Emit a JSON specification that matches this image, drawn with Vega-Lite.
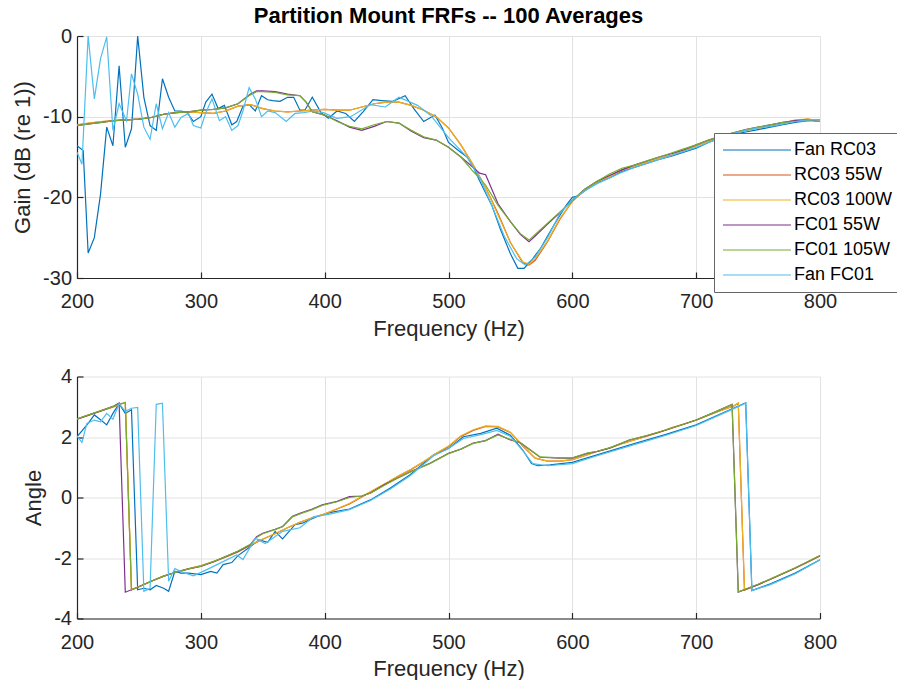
{
  "$schema": "https://vega.github.io/schema/vega-lite/v6.json",
  "background": "white",
  "padding": {"left": 11, "top": 5, "right": 0, "bottom": 0},
  "spacing": 27.5,
  "config": {
    "font": "Liberation Sans",
    "view": {"stroke": null},
    "axis": {
      "labelFont": "Liberation Sans", "labelFontSize": 20, "labelColor": "#262626", "labelFlush": false,
      "titleFont": "Liberation Sans", "titleFontSize": 22, "titleFontWeight": "normal", "titleColor": "#262626",
      "domainColor": "#262626", "domainWidth": 1.2, "tickColor": "#262626", "tickSize": -6, "tickWidth": 1.2,
      "gridColor": "#e2e2e2", "gridWidth": 1
    },
    "axisX": {"labelPadding": 19.5, "titlePadding": 6.5},
    "axisY": {"labelPadding": 11.5, "titlePadding": 8}
  },
  "datasets": {
    "gain": [
      {"f":200,"s":"Fan RC03","v":-13.6},{"f":205,"s":"Fan RC03","v":-14.2},{"f":209,"s":"Fan RC03","v":-26.9},{"f":214,"s":"Fan RC03","v":-25.0},{"f":219,"s":"Fan RC03","v":-19.6},{"f":224,"s":"Fan RC03","v":-11.3},{"f":229,"s":"Fan RC03","v":-13.6},{"f":234,"s":"Fan RC03","v":-3.7},{"f":239,"s":"Fan RC03","v":-13.8},{"f":244,"s":"Fan RC03","v":-11.5},{"f":249,"s":"Fan RC03","v":0.0},{"f":254,"s":"Fan RC03","v":-7.6},{"f":259,"s":"Fan RC03","v":-11.1},{"f":264,"s":"Fan RC03","v":-11.7},{"f":269,"s":"Fan RC03","v":-5.3},{"f":274,"s":"Fan RC03","v":-7.6},{"f":279,"s":"Fan RC03","v":-9.3},{"f":284,"s":"Fan RC03","v":-9.3},{"f":289,"s":"Fan RC03","v":-9.5},{"f":294,"s":"Fan RC03","v":-10.6},{"f":300,"s":"Fan RC03","v":-10.0},{"f":304,"s":"Fan RC03","v":-8.2},{"f":309,"s":"Fan RC03","v":-7.2},{"f":314,"s":"Fan RC03","v":-9.0},{"f":319,"s":"Fan RC03","v":-8.6},{"f":325,"s":"Fan RC03","v":-11.0},{"f":329,"s":"Fan RC03","v":-10.6},{"f":334,"s":"Fan RC03","v":-8.7},{"f":339,"s":"Fan RC03","v":-8.5},{"f":344,"s":"Fan RC03","v":-9.3},{"f":349,"s":"Fan RC03","v":-7.4},{"f":354,"s":"Fan RC03","v":-7.9},{"f":358,"s":"Fan RC03","v":-8.0},{"f":364,"s":"Fan RC03","v":-8.1},{"f":370,"s":"Fan RC03","v":-7.6},{"f":375,"s":"Fan RC03","v":-7.6},{"f":380,"s":"Fan RC03","v":-9.2},{"f":384,"s":"Fan RC03","v":-9.2},{"f":390,"s":"Fan RC03","v":-7.6},{"f":397,"s":"Fan RC03","v":-9.5},{"f":403,"s":"Fan RC03","v":-10.2},{"f":410,"s":"Fan RC03","v":-9.3},{"f":417,"s":"Fan RC03","v":-9.6},{"f":424,"s":"Fan RC03","v":-10.6},{"f":431,"s":"Fan RC03","v":-9.4},{"f":439,"s":"Fan RC03","v":-7.9},{"f":446,"s":"Fan RC03","v":-8.0},{"f":455,"s":"Fan RC03","v":-8.1},{"f":465,"s":"Fan RC03","v":-7.4},{"f":472,"s":"Fan RC03","v":-9.0},{"f":480,"s":"Fan RC03","v":-10.6},{"f":489,"s":"Fan RC03","v":-9.8},{"f":495,"s":"Fan RC03","v":-11.4},{"f":500,"s":"Fan RC03","v":-13.2},{"f":508,"s":"Fan RC03","v":-14.2},{"f":515,"s":"Fan RC03","v":-15.0},{"f":520,"s":"Fan RC03","v":-16.2},{"f":525,"s":"Fan RC03","v":-17.9},{"f":535,"s":"Fan RC03","v":-21.0},{"f":542,"s":"Fan RC03","v":-24.0},{"f":550,"s":"Fan RC03","v":-27.0},{"f":556,"s":"Fan RC03","v":-28.8},{"f":561,"s":"Fan RC03","v":-28.8},{"f":567,"s":"Fan RC03","v":-27.8},{"f":574,"s":"Fan RC03","v":-26.4},{"f":580,"s":"Fan RC03","v":-24.8},{"f":588,"s":"Fan RC03","v":-22.7},{"f":595,"s":"Fan RC03","v":-21.0},{"f":600,"s":"Fan RC03","v":-20.0},{"f":605,"s":"Fan RC03","v":-19.8},{"f":614,"s":"Fan RC03","v":-18.7},{"f":620,"s":"Fan RC03","v":-18.2},{"f":630,"s":"Fan RC03","v":-17.6},{"f":640,"s":"Fan RC03","v":-16.8},{"f":650,"s":"Fan RC03","v":-16.3},{"f":660,"s":"Fan RC03","v":-15.8},{"f":670,"s":"Fan RC03","v":-15.3},{"f":680,"s":"Fan RC03","v":-14.9},{"f":690,"s":"Fan RC03","v":-14.4},{"f":700,"s":"Fan RC03","v":-13.9},{"f":710,"s":"Fan RC03","v":-13.2},{"f":720,"s":"Fan RC03","v":-12.6},{"f":730,"s":"Fan RC03","v":-12.2},{"f":740,"s":"Fan RC03","v":-11.9},{"f":750,"s":"Fan RC03","v":-11.6},{"f":760,"s":"Fan RC03","v":-11.3},{"f":770,"s":"Fan RC03","v":-11.0},{"f":780,"s":"Fan RC03","v":-10.7},{"f":790,"s":"Fan RC03","v":-10.5},{"f":800,"s":"Fan RC03","v":-10.4},

      {"f":200,"s":"RC03 55W","v":-11.0},{"f":210,"s":"RC03 55W","v":-10.8},{"f":220,"s":"RC03 55W","v":-10.6},{"f":230,"s":"RC03 55W","v":-10.5},{"f":240,"s":"RC03 55W","v":-10.4},{"f":250,"s":"RC03 55W","v":-10.3},{"f":260,"s":"RC03 55W","v":-10.1},{"f":270,"s":"RC03 55W","v":-9.7},{"f":280,"s":"RC03 55W","v":-9.5},{"f":290,"s":"RC03 55W","v":-9.4},{"f":300,"s":"RC03 55W","v":-9.5},{"f":310,"s":"RC03 55W","v":-9.6},{"f":320,"s":"RC03 55W","v":-9.3},{"f":330,"s":"RC03 55W","v":-8.7},{"f":340,"s":"RC03 55W","v":-8.5},{"f":350,"s":"RC03 55W","v":-9.0},{"f":360,"s":"RC03 55W","v":-9.3},{"f":370,"s":"RC03 55W","v":-9.4},{"f":380,"s":"RC03 55W","v":-9.3},{"f":390,"s":"RC03 55W","v":-9.2},{"f":400,"s":"RC03 55W","v":-9.1},{"f":410,"s":"RC03 55W","v":-9.2},{"f":420,"s":"RC03 55W","v":-9.2},{"f":430,"s":"RC03 55W","v":-8.8},{"f":440,"s":"RC03 55W","v":-8.4},{"f":450,"s":"RC03 55W","v":-8.2},{"f":460,"s":"RC03 55W","v":-8.2},{"f":470,"s":"RC03 55W","v":-8.6},{"f":480,"s":"RC03 55W","v":-9.2},{"f":490,"s":"RC03 55W","v":-10.0},{"f":500,"s":"RC03 55W","v":-11.4},{"f":510,"s":"RC03 55W","v":-13.5},{"f":520,"s":"RC03 55W","v":-16.0},{"f":530,"s":"RC03 55W","v":-18.8},{"f":540,"s":"RC03 55W","v":-22.0},{"f":550,"s":"RC03 55W","v":-25.6},{"f":560,"s":"RC03 55W","v":-28.1},{"f":565,"s":"RC03 55W","v":-28.4},{"f":570,"s":"RC03 55W","v":-27.8},{"f":580,"s":"RC03 55W","v":-25.5},{"f":590,"s":"RC03 55W","v":-22.7},{"f":600,"s":"RC03 55W","v":-20.5},{"f":610,"s":"RC03 55W","v":-19.1},{"f":620,"s":"RC03 55W","v":-18.1},{"f":630,"s":"RC03 55W","v":-17.4},{"f":640,"s":"RC03 55W","v":-16.6},{"f":650,"s":"RC03 55W","v":-16.1},{"f":660,"s":"RC03 55W","v":-15.6},{"f":670,"s":"RC03 55W","v":-15.2},{"f":680,"s":"RC03 55W","v":-14.8},{"f":690,"s":"RC03 55W","v":-14.2},{"f":700,"s":"RC03 55W","v":-13.6},{"f":710,"s":"RC03 55W","v":-13.0},{"f":720,"s":"RC03 55W","v":-12.5},{"f":730,"s":"RC03 55W","v":-12.1},{"f":740,"s":"RC03 55W","v":-11.7},{"f":750,"s":"RC03 55W","v":-11.4},{"f":760,"s":"RC03 55W","v":-11.1},{"f":770,"s":"RC03 55W","v":-10.8},{"f":780,"s":"RC03 55W","v":-10.5},{"f":790,"s":"RC03 55W","v":-10.3},{"f":800,"s":"RC03 55W","v":-10.5},

      {"f":200,"s":"RC03 100W","v":-11.0},{"f":210,"s":"RC03 100W","v":-10.8},{"f":220,"s":"RC03 100W","v":-10.6},{"f":230,"s":"RC03 100W","v":-10.5},{"f":240,"s":"RC03 100W","v":-10.4},{"f":250,"s":"RC03 100W","v":-10.3},{"f":260,"s":"RC03 100W","v":-10.1},{"f":270,"s":"RC03 100W","v":-9.7},{"f":280,"s":"RC03 100W","v":-9.5},{"f":290,"s":"RC03 100W","v":-9.4},{"f":300,"s":"RC03 100W","v":-9.5},{"f":310,"s":"RC03 100W","v":-9.6},{"f":320,"s":"RC03 100W","v":-9.3},{"f":330,"s":"RC03 100W","v":-8.7},{"f":340,"s":"RC03 100W","v":-8.5},{"f":350,"s":"RC03 100W","v":-9.0},{"f":360,"s":"RC03 100W","v":-9.3},{"f":370,"s":"RC03 100W","v":-9.4},{"f":380,"s":"RC03 100W","v":-9.3},{"f":390,"s":"RC03 100W","v":-9.2},{"f":400,"s":"RC03 100W","v":-9.1},{"f":410,"s":"RC03 100W","v":-9.2},{"f":420,"s":"RC03 100W","v":-9.2},{"f":430,"s":"RC03 100W","v":-8.8},{"f":440,"s":"RC03 100W","v":-8.4},{"f":450,"s":"RC03 100W","v":-8.2},{"f":460,"s":"RC03 100W","v":-8.2},{"f":470,"s":"RC03 100W","v":-8.6},{"f":480,"s":"RC03 100W","v":-9.2},{"f":490,"s":"RC03 100W","v":-10.0},{"f":500,"s":"RC03 100W","v":-11.4},{"f":510,"s":"RC03 100W","v":-13.5},{"f":520,"s":"RC03 100W","v":-16.0},{"f":530,"s":"RC03 100W","v":-18.8},{"f":540,"s":"RC03 100W","v":-22.2},{"f":550,"s":"RC03 100W","v":-25.6},{"f":560,"s":"RC03 100W","v":-28.0},{"f":565,"s":"RC03 100W","v":-28.3},{"f":570,"s":"RC03 100W","v":-27.6},{"f":580,"s":"RC03 100W","v":-25.4},{"f":590,"s":"RC03 100W","v":-22.6},{"f":600,"s":"RC03 100W","v":-20.5},{"f":610,"s":"RC03 100W","v":-19.1},{"f":620,"s":"RC03 100W","v":-18.1},{"f":630,"s":"RC03 100W","v":-17.4},{"f":640,"s":"RC03 100W","v":-16.6},{"f":650,"s":"RC03 100W","v":-16.1},{"f":660,"s":"RC03 100W","v":-15.6},{"f":670,"s":"RC03 100W","v":-15.2},{"f":680,"s":"RC03 100W","v":-14.8},{"f":690,"s":"RC03 100W","v":-14.2},{"f":700,"s":"RC03 100W","v":-13.6},{"f":710,"s":"RC03 100W","v":-13.0},{"f":720,"s":"RC03 100W","v":-12.5},{"f":730,"s":"RC03 100W","v":-12.1},{"f":740,"s":"RC03 100W","v":-11.7},{"f":750,"s":"RC03 100W","v":-11.4},{"f":760,"s":"RC03 100W","v":-11.1},{"f":770,"s":"RC03 100W","v":-10.8},{"f":780,"s":"RC03 100W","v":-10.4},{"f":790,"s":"RC03 100W","v":-10.3},{"f":800,"s":"RC03 100W","v":-10.5},

      {"f":200,"s":"FC01 55W","v":-11.1},{"f":210,"s":"FC01 55W","v":-10.9},{"f":220,"s":"FC01 55W","v":-10.7},{"f":230,"s":"FC01 55W","v":-10.5},{"f":240,"s":"FC01 55W","v":-10.4},{"f":250,"s":"FC01 55W","v":-10.3},{"f":260,"s":"FC01 55W","v":-10.1},{"f":270,"s":"FC01 55W","v":-9.7},{"f":280,"s":"FC01 55W","v":-9.5},{"f":290,"s":"FC01 55W","v":-9.4},{"f":300,"s":"FC01 55W","v":-9.2},{"f":310,"s":"FC01 55W","v":-9.1},{"f":320,"s":"FC01 55W","v":-8.9},{"f":330,"s":"FC01 55W","v":-8.4},{"f":340,"s":"FC01 55W","v":-7.2},{"f":345,"s":"FC01 55W","v":-6.8},{"f":350,"s":"FC01 55W","v":-6.8},{"f":360,"s":"FC01 55W","v":-6.9},{"f":370,"s":"FC01 55W","v":-7.2},{"f":380,"s":"FC01 55W","v":-7.4},{"f":385,"s":"FC01 55W","v":-8.2},{"f":390,"s":"FC01 55W","v":-9.4},{"f":400,"s":"FC01 55W","v":-9.8},{"f":410,"s":"FC01 55W","v":-10.5},{"f":420,"s":"FC01 55W","v":-11.3},{"f":430,"s":"FC01 55W","v":-11.7},{"f":440,"s":"FC01 55W","v":-11.2},{"f":450,"s":"FC01 55W","v":-10.6},{"f":460,"s":"FC01 55W","v":-10.8},{"f":470,"s":"FC01 55W","v":-11.8},{"f":480,"s":"FC01 55W","v":-12.6},{"f":490,"s":"FC01 55W","v":-12.9},{"f":500,"s":"FC01 55W","v":-13.8},{"f":510,"s":"FC01 55W","v":-15.0},{"f":520,"s":"FC01 55W","v":-16.3},{"f":525,"s":"FC01 55W","v":-17.0},{"f":530,"s":"FC01 55W","v":-17.2},{"f":540,"s":"FC01 55W","v":-20.8},{"f":550,"s":"FC01 55W","v":-23.0},{"f":558,"s":"FC01 55W","v":-24.6},{"f":565,"s":"FC01 55W","v":-25.5},{"f":570,"s":"FC01 55W","v":-24.8},{"f":580,"s":"FC01 55W","v":-23.3},{"f":590,"s":"FC01 55W","v":-21.9},{"f":600,"s":"FC01 55W","v":-20.4},{"f":610,"s":"FC01 55W","v":-19.0},{"f":620,"s":"FC01 55W","v":-18.0},{"f":630,"s":"FC01 55W","v":-17.3},{"f":640,"s":"FC01 55W","v":-16.6},{"f":650,"s":"FC01 55W","v":-16.0},{"f":660,"s":"FC01 55W","v":-15.5},{"f":670,"s":"FC01 55W","v":-15.0},{"f":680,"s":"FC01 55W","v":-14.6},{"f":690,"s":"FC01 55W","v":-14.1},{"f":700,"s":"FC01 55W","v":-13.5},{"f":710,"s":"FC01 55W","v":-12.9},{"f":720,"s":"FC01 55W","v":-12.4},{"f":730,"s":"FC01 55W","v":-12.0},{"f":740,"s":"FC01 55W","v":-11.6},{"f":750,"s":"FC01 55W","v":-11.3},{"f":760,"s":"FC01 55W","v":-11.0},{"f":770,"s":"FC01 55W","v":-10.7},{"f":780,"s":"FC01 55W","v":-10.5},{"f":790,"s":"FC01 55W","v":-10.4},{"f":800,"s":"FC01 55W","v":-10.6},

      {"f":200,"s":"FC01 105W","v":-11.1},{"f":210,"s":"FC01 105W","v":-10.9},{"f":220,"s":"FC01 105W","v":-10.7},{"f":230,"s":"FC01 105W","v":-10.5},{"f":240,"s":"FC01 105W","v":-10.4},{"f":250,"s":"FC01 105W","v":-10.3},{"f":260,"s":"FC01 105W","v":-10.1},{"f":270,"s":"FC01 105W","v":-9.7},{"f":280,"s":"FC01 105W","v":-9.5},{"f":290,"s":"FC01 105W","v":-9.4},{"f":300,"s":"FC01 105W","v":-9.2},{"f":310,"s":"FC01 105W","v":-9.1},{"f":320,"s":"FC01 105W","v":-8.9},{"f":330,"s":"FC01 105W","v":-8.4},{"f":340,"s":"FC01 105W","v":-7.3},{"f":345,"s":"FC01 105W","v":-6.9},{"f":350,"s":"FC01 105W","v":-6.9},{"f":360,"s":"FC01 105W","v":-7.0},{"f":370,"s":"FC01 105W","v":-7.3},{"f":380,"s":"FC01 105W","v":-7.4},{"f":385,"s":"FC01 105W","v":-8.2},{"f":390,"s":"FC01 105W","v":-9.4},{"f":400,"s":"FC01 105W","v":-9.8},{"f":410,"s":"FC01 105W","v":-10.6},{"f":420,"s":"FC01 105W","v":-11.2},{"f":430,"s":"FC01 105W","v":-11.5},{"f":440,"s":"FC01 105W","v":-11.0},{"f":450,"s":"FC01 105W","v":-10.6},{"f":460,"s":"FC01 105W","v":-10.8},{"f":470,"s":"FC01 105W","v":-11.7},{"f":480,"s":"FC01 105W","v":-12.5},{"f":490,"s":"FC01 105W","v":-12.9},{"f":500,"s":"FC01 105W","v":-13.8},{"f":510,"s":"FC01 105W","v":-15.0},{"f":520,"s":"FC01 105W","v":-16.8},{"f":525,"s":"FC01 105W","v":-17.6},{"f":530,"s":"FC01 105W","v":-18.5},{"f":540,"s":"FC01 105W","v":-21.0},{"f":550,"s":"FC01 105W","v":-23.0},{"f":558,"s":"FC01 105W","v":-24.5},{"f":565,"s":"FC01 105W","v":-25.3},{"f":570,"s":"FC01 105W","v":-24.6},{"f":580,"s":"FC01 105W","v":-23.2},{"f":590,"s":"FC01 105W","v":-21.8},{"f":600,"s":"FC01 105W","v":-20.4},{"f":610,"s":"FC01 105W","v":-19.0},{"f":620,"s":"FC01 105W","v":-18.0},{"f":630,"s":"FC01 105W","v":-17.1},{"f":640,"s":"FC01 105W","v":-16.4},{"f":650,"s":"FC01 105W","v":-16.0},{"f":660,"s":"FC01 105W","v":-15.5},{"f":670,"s":"FC01 105W","v":-15.0},{"f":680,"s":"FC01 105W","v":-14.5},{"f":690,"s":"FC01 105W","v":-14.0},{"f":700,"s":"FC01 105W","v":-13.5},{"f":710,"s":"FC01 105W","v":-12.9},{"f":720,"s":"FC01 105W","v":-12.4},{"f":730,"s":"FC01 105W","v":-12.0},{"f":740,"s":"FC01 105W","v":-11.6},{"f":750,"s":"FC01 105W","v":-11.3},{"f":760,"s":"FC01 105W","v":-11.0},{"f":770,"s":"FC01 105W","v":-10.7},{"f":780,"s":"FC01 105W","v":-10.6},{"f":790,"s":"FC01 105W","v":-10.5},{"f":800,"s":"FC01 105W","v":-10.6},

      {"f":200,"s":"Fan FC01","v":-14.4},{"f":204,"s":"Fan FC01","v":-15.9},{"f":209,"s":"Fan FC01","v":0.0},{"f":214,"s":"Fan FC01","v":-7.8},{"f":219,"s":"Fan FC01","v":-2.8},{"f":224,"s":"Fan FC01","v":-0.1},{"f":229,"s":"Fan FC01","v":-11.7},{"f":234,"s":"Fan FC01","v":-8.4},{"f":240,"s":"Fan FC01","v":-10.5},{"f":244,"s":"Fan FC01","v":-4.7},{"f":249,"s":"Fan FC01","v":-7.2},{"f":254,"s":"Fan FC01","v":-11.3},{"f":259,"s":"Fan FC01","v":-12.8},{"f":264,"s":"Fan FC01","v":-8.4},{"f":269,"s":"Fan FC01","v":-11.5},{"f":274,"s":"Fan FC01","v":-9.5},{"f":279,"s":"Fan FC01","v":-11.3},{"f":284,"s":"Fan FC01","v":-10.1},{"f":290,"s":"Fan FC01","v":-9.6},{"f":294,"s":"Fan FC01","v":-11.1},{"f":300,"s":"Fan FC01","v":-11.4},{"f":304,"s":"Fan FC01","v":-9.5},{"f":309,"s":"Fan FC01","v":-7.8},{"f":315,"s":"Fan FC01","v":-10.5},{"f":320,"s":"Fan FC01","v":-10.0},{"f":325,"s":"Fan FC01","v":-11.7},{"f":330,"s":"Fan FC01","v":-11.1},{"f":334,"s":"Fan FC01","v":-9.3},{"f":339,"s":"Fan FC01","v":-6.4},{"f":344,"s":"Fan FC01","v":-7.8},{"f":349,"s":"Fan FC01","v":-10.0},{"f":354,"s":"Fan FC01","v":-9.3},{"f":360,"s":"Fan FC01","v":-9.5},{"f":369,"s":"Fan FC01","v":-10.6},{"f":376,"s":"Fan FC01","v":-9.6},{"f":383,"s":"Fan FC01","v":-9.5},{"f":391,"s":"Fan FC01","v":-9.3},{"f":399,"s":"Fan FC01","v":-9.5},{"f":405,"s":"Fan FC01","v":-9.9},{"f":410,"s":"Fan FC01","v":-10.2},{"f":421,"s":"Fan FC01","v":-10.0},{"f":437,"s":"Fan FC01","v":-8.5},{"f":449,"s":"Fan FC01","v":-8.8},{"f":460,"s":"Fan FC01","v":-7.6},{"f":475,"s":"Fan FC01","v":-8.6},{"f":486,"s":"Fan FC01","v":-9.9},{"f":500,"s":"Fan FC01","v":-12.6},{"f":515,"s":"Fan FC01","v":-15.0},{"f":525,"s":"Fan FC01","v":-17.5},{"f":535,"s":"Fan FC01","v":-21.0},{"f":545,"s":"Fan FC01","v":-24.8},{"f":555,"s":"Fan FC01","v":-27.6},{"f":562,"s":"Fan FC01","v":-28.4},{"f":570,"s":"Fan FC01","v":-27.4},{"f":580,"s":"Fan FC01","v":-25.0},{"f":590,"s":"Fan FC01","v":-22.0},{"f":600,"s":"Fan FC01","v":-20.3},{"f":610,"s":"Fan FC01","v":-19.2},{"f":620,"s":"Fan FC01","v":-18.3},{"f":630,"s":"Fan FC01","v":-17.6},{"f":640,"s":"Fan FC01","v":-16.9},{"f":650,"s":"Fan FC01","v":-16.3},{"f":660,"s":"Fan FC01","v":-15.8},{"f":670,"s":"Fan FC01","v":-15.3},{"f":680,"s":"Fan FC01","v":-14.8},{"f":690,"s":"Fan FC01","v":-14.3},{"f":700,"s":"Fan FC01","v":-13.8},{"f":710,"s":"Fan FC01","v":-13.2},{"f":720,"s":"Fan FC01","v":-12.6},{"f":730,"s":"Fan FC01","v":-12.1},{"f":740,"s":"Fan FC01","v":-11.7},{"f":750,"s":"Fan FC01","v":-11.4},{"f":760,"s":"Fan FC01","v":-11.2},{"f":770,"s":"Fan FC01","v":-10.9},{"f":780,"s":"Fan FC01","v":-10.6},{"f":790,"s":"Fan FC01","v":-10.4},{"f":800,"s":"Fan FC01","v":-10.4}
    ],
    "angle": [
      {"f":200,"s":"Fan RC03","v":2.01},{"f":204,"s":"Fan RC03","v":2.2},{"f":209,"s":"Fan RC03","v":2.45},{"f":214,"s":"Fan RC03","v":2.73},{"f":219,"s":"Fan RC03","v":2.57},{"f":224,"s":"Fan RC03","v":2.4},{"f":229,"s":"Fan RC03","v":2.78},{"f":234,"s":"Fan RC03","v":3.1},{"f":239,"s":"Fan RC03","v":2.78},{"f":244,"s":"Fan RC03","v":2.9},{"f":249,"s":"Fan RC03","v":-3.05},{"f":254,"s":"Fan RC03","v":-3.0},{"f":259,"s":"Fan RC03","v":-3.05},{"f":264,"s":"Fan RC03","v":-2.91},{"f":270,"s":"Fan RC03","v":-3.0},{"f":274,"s":"Fan RC03","v":-3.1},{"f":279,"s":"Fan RC03","v":-2.44},{"f":284,"s":"Fan RC03","v":-2.5},{"f":290,"s":"Fan RC03","v":-2.5},{"f":300,"s":"Fan RC03","v":-2.55},{"f":308,"s":"Fan RC03","v":-2.44},{"f":313,"s":"Fan RC03","v":-2.5},{"f":318,"s":"Fan RC03","v":-2.22},{"f":325,"s":"Fan RC03","v":-2.15},{"f":330,"s":"Fan RC03","v":-1.92},{"f":339,"s":"Fan RC03","v":-1.65},{"f":347,"s":"Fan RC03","v":-1.4},{"f":354,"s":"Fan RC03","v":-1.48},{"f":360,"s":"Fan RC03","v":-1.12},{"f":366,"s":"Fan RC03","v":-1.37},{"f":376,"s":"Fan RC03","v":-0.9},{"f":382,"s":"Fan RC03","v":-0.85},{"f":393,"s":"Fan RC03","v":-0.64},{"f":404,"s":"Fan RC03","v":-0.5},{"f":420,"s":"Fan RC03","v":-0.38},{"f":437,"s":"Fan RC03","v":-0.08},{"f":453,"s":"Fan RC03","v":0.31},{"f":469,"s":"Fan RC03","v":0.75},{"f":488,"s":"Fan RC03","v":1.41},{"f":500,"s":"Fan RC03","v":1.62},{"f":512,"s":"Fan RC03","v":2.01},{"f":526,"s":"Fan RC03","v":2.12},{"f":539,"s":"Fan RC03","v":2.29},{"f":550,"s":"Fan RC03","v":2.06},{"f":560,"s":"Fan RC03","v":1.57},{"f":567,"s":"Fan RC03","v":1.12},{"f":572,"s":"Fan RC03","v":1.05},{"f":582,"s":"Fan RC03","v":1.08},{"f":600,"s":"Fan RC03","v":1.16},{"f":620,"s":"Fan RC03","v":1.41},{"f":650,"s":"Fan RC03","v":1.78},{"f":675,"s":"Fan RC03","v":2.08},{"f":700,"s":"Fan RC03","v":2.4},{"f":730,"s":"Fan RC03","v":2.95},{"f":740,"s":"Fan RC03","v":3.13},{"f":745,"s":"Fan RC03","v":-3.08},{"f":760,"s":"Fan RC03","v":-2.85},{"f":780,"s":"Fan RC03","v":-2.5},{"f":800,"s":"Fan RC03","v":-2.06},

      {"f":200,"s":"RC03 55W","v":2.59},{"f":210,"s":"RC03 55W","v":2.73},{"f":220,"s":"RC03 55W","v":2.87},{"f":230,"s":"RC03 55W","v":3.0},{"f":239,"s":"RC03 55W","v":3.14},{"f":244,"s":"RC03 55W","v":-3.05},{"f":250,"s":"RC03 55W","v":-2.95},{"f":260,"s":"RC03 55W","v":-2.77},{"f":270,"s":"RC03 55W","v":-2.6},{"f":280,"s":"RC03 55W","v":-2.47},{"f":290,"s":"RC03 55W","v":-2.36},{"f":300,"s":"RC03 55W","v":-2.26},{"f":310,"s":"RC03 55W","v":-2.13},{"f":320,"s":"RC03 55W","v":-1.97},{"f":330,"s":"RC03 55W","v":-1.8},{"f":340,"s":"RC03 55W","v":-1.58},{"f":350,"s":"RC03 55W","v":-1.38},{"f":360,"s":"RC03 55W","v":-1.2},{"f":370,"s":"RC03 55W","v":-1.0},{"f":380,"s":"RC03 55W","v":-0.82},{"f":390,"s":"RC03 55W","v":-0.67},{"f":400,"s":"RC03 55W","v":-0.55},{"f":410,"s":"RC03 55W","v":-0.38},{"f":420,"s":"RC03 55W","v":-0.21},{"f":430,"s":"RC03 55W","v":0.02},{"f":440,"s":"RC03 55W","v":0.25},{"f":450,"s":"RC03 55W","v":0.48},{"f":460,"s":"RC03 55W","v":0.72},{"f":470,"s":"RC03 55W","v":0.93},{"f":480,"s":"RC03 55W","v":1.18},{"f":490,"s":"RC03 55W","v":1.45},{"f":500,"s":"RC03 55W","v":1.68},{"f":510,"s":"RC03 55W","v":2.02},{"f":520,"s":"RC03 55W","v":2.22},{"f":530,"s":"RC03 55W","v":2.35},{"f":540,"s":"RC03 55W","v":2.33},{"f":550,"s":"RC03 55W","v":2.15},{"f":560,"s":"RC03 55W","v":1.7},{"f":570,"s":"RC03 55W","v":1.3},{"f":580,"s":"RC03 55W","v":1.2},{"f":590,"s":"RC03 55W","v":1.2},{"f":600,"s":"RC03 55W","v":1.25},{"f":610,"s":"RC03 55W","v":1.38},{"f":620,"s":"RC03 55W","v":1.52},{"f":630,"s":"RC03 55W","v":1.63},{"f":640,"s":"RC03 55W","v":1.78},{"f":650,"s":"RC03 55W","v":1.9},{"f":660,"s":"RC03 55W","v":2.03},{"f":670,"s":"RC03 55W","v":2.15},{"f":680,"s":"RC03 55W","v":2.3},{"f":690,"s":"RC03 55W","v":2.43},{"f":700,"s":"RC03 55W","v":2.56},{"f":710,"s":"RC03 55W","v":2.72},{"f":720,"s":"RC03 55W","v":2.88},{"f":730,"s":"RC03 55W","v":3.02},{"f":734,"s":"RC03 55W","v":3.12},{"f":739,"s":"RC03 55W","v":-3.06},{"f":750,"s":"RC03 55W","v":-2.88},{"f":760,"s":"RC03 55W","v":-2.7},{"f":770,"s":"RC03 55W","v":-2.52},{"f":780,"s":"RC03 55W","v":-2.34},{"f":790,"s":"RC03 55W","v":-2.14},{"f":800,"s":"RC03 55W","v":-1.93},

      {"f":200,"s":"RC03 100W","v":2.6},{"f":210,"s":"RC03 100W","v":2.74},{"f":220,"s":"RC03 100W","v":2.88},{"f":230,"s":"RC03 100W","v":3.01},{"f":239,"s":"RC03 100W","v":3.14},{"f":244,"s":"RC03 100W","v":-3.04},{"f":250,"s":"RC03 100W","v":-2.94},{"f":260,"s":"RC03 100W","v":-2.76},{"f":270,"s":"RC03 100W","v":-2.6},{"f":280,"s":"RC03 100W","v":-2.46},{"f":290,"s":"RC03 100W","v":-2.35},{"f":300,"s":"RC03 100W","v":-2.25},{"f":310,"s":"RC03 100W","v":-2.12},{"f":320,"s":"RC03 100W","v":-1.96},{"f":330,"s":"RC03 100W","v":-1.79},{"f":340,"s":"RC03 100W","v":-1.57},{"f":350,"s":"RC03 100W","v":-1.37},{"f":360,"s":"RC03 100W","v":-1.19},{"f":370,"s":"RC03 100W","v":-1.0},{"f":380,"s":"RC03 100W","v":-0.82},{"f":390,"s":"RC03 100W","v":-0.66},{"f":400,"s":"RC03 100W","v":-0.54},{"f":410,"s":"RC03 100W","v":-0.37},{"f":420,"s":"RC03 100W","v":-0.2},{"f":430,"s":"RC03 100W","v":0.03},{"f":440,"s":"RC03 100W","v":0.26},{"f":450,"s":"RC03 100W","v":0.49},{"f":460,"s":"RC03 100W","v":0.73},{"f":470,"s":"RC03 100W","v":0.94},{"f":480,"s":"RC03 100W","v":1.19},{"f":490,"s":"RC03 100W","v":1.46},{"f":500,"s":"RC03 100W","v":1.7},{"f":510,"s":"RC03 100W","v":2.04},{"f":520,"s":"RC03 100W","v":2.24},{"f":530,"s":"RC03 100W","v":2.37},{"f":540,"s":"RC03 100W","v":2.35},{"f":550,"s":"RC03 100W","v":2.16},{"f":560,"s":"RC03 100W","v":1.72},{"f":570,"s":"RC03 100W","v":1.3},{"f":580,"s":"RC03 100W","v":1.2},{"f":590,"s":"RC03 100W","v":1.2},{"f":600,"s":"RC03 100W","v":1.25},{"f":610,"s":"RC03 100W","v":1.38},{"f":620,"s":"RC03 100W","v":1.52},{"f":630,"s":"RC03 100W","v":1.64},{"f":640,"s":"RC03 100W","v":1.78},{"f":650,"s":"RC03 100W","v":1.9},{"f":660,"s":"RC03 100W","v":2.03},{"f":670,"s":"RC03 100W","v":2.16},{"f":680,"s":"RC03 100W","v":2.3},{"f":690,"s":"RC03 100W","v":2.43},{"f":700,"s":"RC03 100W","v":2.56},{"f":710,"s":"RC03 100W","v":2.72},{"f":720,"s":"RC03 100W","v":2.88},{"f":730,"s":"RC03 100W","v":3.02},{"f":734,"s":"RC03 100W","v":3.12},{"f":739,"s":"RC03 100W","v":-3.06},{"f":750,"s":"RC03 100W","v":-2.88},{"f":760,"s":"RC03 100W","v":-2.7},{"f":770,"s":"RC03 100W","v":-2.52},{"f":780,"s":"RC03 100W","v":-2.33},{"f":790,"s":"RC03 100W","v":-2.13},{"f":800,"s":"RC03 100W","v":-1.92},

      {"f":200,"s":"FC01 55W","v":2.59},{"f":210,"s":"FC01 55W","v":2.73},{"f":220,"s":"FC01 55W","v":2.87},{"f":230,"s":"FC01 55W","v":3.03},{"f":234,"s":"FC01 55W","v":3.12},{"f":239,"s":"FC01 55W","v":-3.13},{"f":250,"s":"FC01 55W","v":-2.95},{"f":260,"s":"FC01 55W","v":-2.77},{"f":270,"s":"FC01 55W","v":-2.6},{"f":280,"s":"FC01 55W","v":-2.47},{"f":290,"s":"FC01 55W","v":-2.36},{"f":300,"s":"FC01 55W","v":-2.28},{"f":310,"s":"FC01 55W","v":-2.13},{"f":320,"s":"FC01 55W","v":-1.95},{"f":330,"s":"FC01 55W","v":-1.78},{"f":340,"s":"FC01 55W","v":-1.56},{"f":345,"s":"FC01 55W","v":-1.3},{"f":350,"s":"FC01 55W","v":-1.18},{"f":360,"s":"FC01 55W","v":-1.05},{"f":366,"s":"FC01 55W","v":-0.96},{"f":374,"s":"FC01 55W","v":-0.62},{"f":380,"s":"FC01 55W","v":-0.52},{"f":390,"s":"FC01 55W","v":-0.38},{"f":398,"s":"FC01 55W","v":-0.24},{"f":410,"s":"FC01 55W","v":-0.13},{"f":420,"s":"FC01 55W","v":0.03},{"f":430,"s":"FC01 55W","v":0.05},{"f":437,"s":"FC01 55W","v":0.15},{"f":448,"s":"FC01 55W","v":0.42},{"f":458,"s":"FC01 55W","v":0.63},{"f":469,"s":"FC01 55W","v":0.85},{"f":485,"s":"FC01 55W","v":1.13},{"f":500,"s":"FC01 55W","v":1.46},{"f":510,"s":"FC01 55W","v":1.6},{"f":520,"s":"FC01 55W","v":1.8},{"f":530,"s":"FC01 55W","v":1.88},{"f":540,"s":"FC01 55W","v":2.09},{"f":550,"s":"FC01 55W","v":1.9},{"f":558,"s":"FC01 55W","v":1.81},{"f":566,"s":"FC01 55W","v":1.57},{"f":574,"s":"FC01 55W","v":1.33},{"f":590,"s":"FC01 55W","v":1.3},{"f":600,"s":"FC01 55W","v":1.3},{"f":612,"s":"FC01 55W","v":1.46},{"f":620,"s":"FC01 55W","v":1.52},{"f":630,"s":"FC01 55W","v":1.63},{"f":646,"s":"FC01 55W","v":1.9},{"f":660,"s":"FC01 55W","v":2.04},{"f":676,"s":"FC01 55W","v":2.23},{"f":690,"s":"FC01 55W","v":2.42},{"f":700,"s":"FC01 55W","v":2.56},{"f":716,"s":"FC01 55W","v":2.84},{"f":729,"s":"FC01 55W","v":3.08},{"f":734,"s":"FC01 55W","v":-3.13},{"f":750,"s":"FC01 55W","v":-2.88},{"f":760,"s":"FC01 55W","v":-2.7},{"f":780,"s":"FC01 55W","v":-2.33},{"f":800,"s":"FC01 55W","v":-1.93},

      {"f":200,"s":"FC01 105W","v":2.6},{"f":210,"s":"FC01 105W","v":2.74},{"f":220,"s":"FC01 105W","v":2.88},{"f":230,"s":"FC01 105W","v":3.02},{"f":234,"s":"FC01 105W","v":3.09},{"f":239,"s":"FC01 105W","v":3.14},{"f":244,"s":"FC01 105W","v":-3.05},{"f":250,"s":"FC01 105W","v":-2.95},{"f":260,"s":"FC01 105W","v":-2.77},{"f":270,"s":"FC01 105W","v":-2.6},{"f":280,"s":"FC01 105W","v":-2.47},{"f":290,"s":"FC01 105W","v":-2.36},{"f":300,"s":"FC01 105W","v":-2.27},{"f":310,"s":"FC01 105W","v":-2.12},{"f":320,"s":"FC01 105W","v":-1.95},{"f":330,"s":"FC01 105W","v":-1.77},{"f":340,"s":"FC01 105W","v":-1.55},{"f":345,"s":"FC01 105W","v":-1.32},{"f":350,"s":"FC01 105W","v":-1.2},{"f":360,"s":"FC01 105W","v":-1.06},{"f":366,"s":"FC01 105W","v":-0.97},{"f":374,"s":"FC01 105W","v":-0.64},{"f":380,"s":"FC01 105W","v":-0.54},{"f":390,"s":"FC01 105W","v":-0.4},{"f":398,"s":"FC01 105W","v":-0.26},{"f":410,"s":"FC01 105W","v":-0.14},{"f":420,"s":"FC01 105W","v":0.0},{"f":430,"s":"FC01 105W","v":0.05},{"f":437,"s":"FC01 105W","v":0.14},{"f":448,"s":"FC01 105W","v":0.4},{"f":458,"s":"FC01 105W","v":0.62},{"f":469,"s":"FC01 105W","v":0.84},{"f":485,"s":"FC01 105W","v":1.12},{"f":500,"s":"FC01 105W","v":1.45},{"f":510,"s":"FC01 105W","v":1.6},{"f":520,"s":"FC01 105W","v":1.79},{"f":530,"s":"FC01 105W","v":1.88},{"f":540,"s":"FC01 105W","v":2.07},{"f":550,"s":"FC01 105W","v":1.92},{"f":558,"s":"FC01 105W","v":1.82},{"f":566,"s":"FC01 105W","v":1.58},{"f":574,"s":"FC01 105W","v":1.34},{"f":590,"s":"FC01 105W","v":1.31},{"f":600,"s":"FC01 105W","v":1.31},{"f":612,"s":"FC01 105W","v":1.47},{"f":620,"s":"FC01 105W","v":1.53},{"f":630,"s":"FC01 105W","v":1.64},{"f":646,"s":"FC01 105W","v":1.9},{"f":660,"s":"FC01 105W","v":2.05},{"f":676,"s":"FC01 105W","v":2.24},{"f":690,"s":"FC01 105W","v":2.42},{"f":700,"s":"FC01 105W","v":2.56},{"f":716,"s":"FC01 105W","v":2.84},{"f":729,"s":"FC01 105W","v":3.08},{"f":734,"s":"FC01 105W","v":-3.12},{"f":750,"s":"FC01 105W","v":-2.87},{"f":760,"s":"FC01 105W","v":-2.69},{"f":780,"s":"FC01 105W","v":-2.32},{"f":800,"s":"FC01 105W","v":-1.92},

      {"f":200,"s":"Fan FC01","v":2.03},{"f":204,"s":"Fan FC01","v":1.82},{"f":208,"s":"Fan FC01","v":2.45},{"f":214,"s":"Fan FC01","v":2.56},{"f":219,"s":"Fan FC01","v":2.5},{"f":224,"s":"Fan FC01","v":2.78},{"f":229,"s":"Fan FC01","v":2.59},{"f":234,"s":"Fan FC01","v":3.1},{"f":239,"s":"Fan FC01","v":2.85},{"f":244,"s":"Fan FC01","v":2.95},{"f":249,"s":"Fan FC01","v":2.98},{"f":254,"s":"Fan FC01","v":-3.1},{"f":259,"s":"Fan FC01","v":-3.0},{"f":264,"s":"Fan FC01","v":3.08},{"f":269,"s":"Fan FC01","v":3.12},{"f":274,"s":"Fan FC01","v":-2.77},{"f":279,"s":"Fan FC01","v":-2.35},{"f":284,"s":"Fan FC01","v":-2.45},{"f":294,"s":"Fan FC01","v":-2.59},{"f":304,"s":"Fan FC01","v":-2.4},{"f":318,"s":"Fan FC01","v":-2.12},{"f":329,"s":"Fan FC01","v":-1.9},{"f":334,"s":"Fan FC01","v":-2.05},{"f":344,"s":"Fan FC01","v":-1.35},{"f":352,"s":"Fan FC01","v":-1.52},{"f":366,"s":"Fan FC01","v":-1.12},{"f":380,"s":"Fan FC01","v":-1.0},{"f":391,"s":"Fan FC01","v":-0.64},{"f":404,"s":"Fan FC01","v":-0.55},{"f":420,"s":"Fan FC01","v":-0.4},{"f":437,"s":"Fan FC01","v":-0.1},{"f":453,"s":"Fan FC01","v":0.28},{"f":469,"s":"Fan FC01","v":0.72},{"f":488,"s":"Fan FC01","v":1.38},{"f":500,"s":"Fan FC01","v":1.62},{"f":512,"s":"Fan FC01","v":1.95},{"f":526,"s":"Fan FC01","v":2.08},{"f":539,"s":"Fan FC01","v":2.22},{"f":550,"s":"Fan FC01","v":2.02},{"f":560,"s":"Fan FC01","v":1.55},{"f":568,"s":"Fan FC01","v":1.12},{"f":580,"s":"Fan FC01","v":1.05},{"f":600,"s":"Fan FC01","v":1.12},{"f":620,"s":"Fan FC01","v":1.38},{"f":650,"s":"Fan FC01","v":1.75},{"f":675,"s":"Fan FC01","v":2.05},{"f":700,"s":"Fan FC01","v":2.38},{"f":730,"s":"Fan FC01","v":2.93},{"f":740,"s":"Fan FC01","v":3.12},{"f":745,"s":"Fan FC01","v":-3.08},{"f":760,"s":"Fan FC01","v":-2.88},{"f":780,"s":"Fan FC01","v":-2.52},{"f":800,"s":"Fan FC01","v":-2.06}
    ]
  },
  "resolve": {"legend": {"color": "independent"}},
  "vconcat": [
    {
      "width": 743,
      "height": 242,
      "title": {"text": "Partition Mount FRFs -- 100 Averages", "font": "Liberation Sans", "fontSize": 22, "fontWeight": "bold", "color": "#000000", "anchor": "middle", "frame": "group", "baseline": "bottom", "offset": -24},
      "data": {"name": "gain"},
      "mark": {"type": "line", "clip": true, "strokeWidth": 1.2},
      "encoding": {
        "x": {"field": "f", "type": "quantitative", "scale": {"domain": [200, 800], "nice": false, "zero": false}, "axis": {"title": "Frequency (Hz)", "values": [200, 300, 400, 500, 600, 700, 800], "labelExpr": "'' + datum.value"}},
        "y": {"field": "v", "type": "quantitative", "scale": {"domain": [-30, 0], "nice": false}, "axis": {"title": "Gain (dB (re 1))", "values": [-30, -20, -10, 0], "labelExpr": "'' + datum.value"}},
        "color": {
          "field": "s", "type": "nominal",
          "scale": {"domain": ["Fan RC03", "RC03 55W", "RC03 100W", "FC01 55W", "FC01 105W", "Fan FC01"], "range": ["#0072BD", "#D95319", "#EDB120", "#7E2F8E", "#77AC30", "#4DBEEE"]},
          "legend": {"orient": "none", "legendX": 637, "legendY": 97, "title": null, "symbolType": "M-4.25,0H4.25", "symbolSize": 256, "symbolOffset": 26, "symbolStrokeWidth": 1.2, "symbolFillColor": "transparent", "labelFont": "Liberation Sans", "labelFontSize": 18, "labelColor": "#000000", "labelOffset": 28, "padding": 8, "rowPadding": 7, "strokeColor": "#666666", "fillColor": "#ffffff", "cornerRadius": 0}
        }
      }
    },
    {
      "width": 743,
      "height": 242,
      "data": {"name": "angle"},
      "mark": {"type": "line", "clip": true, "strokeWidth": 1.2},
      "encoding": {
        "x": {"field": "f", "type": "quantitative", "scale": {"domain": [200, 800], "nice": false, "zero": false}, "axis": {"title": "Frequency (Hz)", "values": [200, 300, 400, 500, 600, 700, 800], "labelExpr": "'' + datum.value"}},
        "y": {"field": "v", "type": "quantitative", "scale": {"domain": [-4, 4], "nice": false}, "axis": {"title": "Angle", "values": [-4, -2, 0, 2, 4], "labelExpr": "'' + datum.value"}},
        "color": {
          "field": "s", "type": "nominal",
          "scale": {"domain": ["Fan RC03", "RC03 55W", "RC03 100W", "FC01 55W", "FC01 105W", "Fan FC01"], "range": ["#0072BD", "#D95319", "#EDB120", "#7E2F8E", "#77AC30", "#4DBEEE"]},
          "legend": null
        }
      }
    }
  ]
}
